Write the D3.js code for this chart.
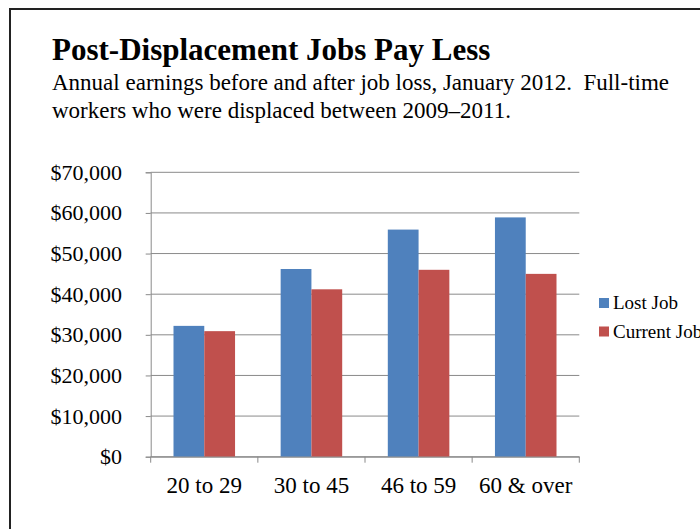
<!DOCTYPE html>
<html><head><meta charset="utf-8">
<script src="https://cdn.jsdelivr.net/npm/d3@7"></script>
<style>body{margin:0;background:#fff}svg{display:block}</style>
</head><body>
<script>
const categories = ["20 to 29", "30 to 45", "46 to 59", "60 & over"];
const series = ["Lost Job", "Current Job"];
const lostJob = [32200, 46200, 55900, 58900];
const currentJob = [30900, 41200, 46000, 45000];
const yTicks = [0, 10000, 20000, 30000, 40000, 50000, 60000, 70000];
const colors = ["#4F81BD", "#C0504D"];

const W = 700, H = 529;
const FONT = "'Liberation Serif','Times New Roman',serif";
const svg = d3.select("body").append("svg").attr("width", W).attr("height", H)
  .style("font-family", FONT);

// frame
svg.append("rect").attr("x", 10).attr("y", 9).attr("width", 720).attr("height", 560)
  .attr("fill", "none").attr("stroke", "#222").attr("stroke-width", 2);

svg.append("text").attr("x", 52).attr("y", 60).attr("font-size", 31).attr("font-weight", "bold")
  .text("Post-Displacement Jobs Pay Less");
svg.append("text").attr("x", 52).attr("y", 90).attr("font-size", 23)
  .text("Annual earnings before and after job loss, January 2012.\u00a0 Full-time");
svg.append("text").attr("x", 52).attr("y", 118).attr("font-size", 23)
  .text("workers who were displaced between 2009\u20132011.");

const pLeft = 150.7, pRight = 579.3, pTop = 172.3, pBottom = 456.7;
const y = d3.scaleLinear().domain([0, 70000]).range([pBottom, pTop]);
const x = d3.scaleBand().domain(categories).range([pLeft, pRight]).paddingInner(0).paddingOuter(0);
const xs = d3.scaleBand().domain(series).range([22.8, x.bandwidth() - 22.8]);

// gridlines
svg.append("g").selectAll("line").data(yTicks).join("line")
  .attr("x1", pLeft).attr("x2", pRight)
  .attr("y1", d => y(d)).attr("y2", d => y(d))
  .attr("stroke", "#8a8a8a").attr("stroke-width", 1);

// y axis
const yAxis = svg.append("g").attr("transform", `translate(${pLeft},0)`)
  .call(d3.axisLeft(y).tickValues(yTicks).tickSize(5).tickPadding(23.7)
    .tickFormat(d => "$" + d3.format(",")(d)));
yAxis.attr("font-family", FONT).attr("font-size", 22);
yAxis.select(".domain").attr("stroke", "#8a8a8a");
yAxis.selectAll(".tick line").attr("stroke", "#8a8a8a");
yAxis.selectAll("text").attr("fill", "#000");

// bars
const data = categories.map((c, i) => ({c, vals: [lostJob[i], currentJob[i]]}));
const g = svg.append("g").selectAll("g").data(data).join("g")
  .attr("transform", d => `translate(${x(d.c)},0)`);
g.selectAll("rect").data(d => d.vals.map((v, j) => ({s: series[j], v, j}))).join("rect")
  .attr("x", d => xs(d.s)).attr("width", xs.bandwidth())
  .attr("y", d => y(d.v)).attr("height", d => y(0) - y(d.v))
  .attr("fill", d => colors[d.j]);

// x axis
const xAxis = svg.append("g").attr("transform", `translate(0,${pBottom})`)
  .call(d3.axisBottom(x).tickSize(0).tickPadding(19.7));
xAxis.attr("font-family", FONT).attr("font-size", 23);
xAxis.select(".domain").attr("stroke", "#8a8a8a");
xAxis.selectAll("text").attr("fill", "#000");
const bounds = categories.map(c => x(c)).concat([pRight]);
svg.append("g").selectAll("line").data(bounds).join("line")
  .attr("x1", d => d).attr("x2", d => d).attr("y1", pBottom).attr("y2", pBottom + 6)
  .attr("stroke", "#8a8a8a");

// legend
const lg = svg.append("g").selectAll("g").data(series).join("g")
  .attr("transform", (d, i) => `translate(599,${298 + i * 28.5})`);
lg.append("rect").attr("width", 10).attr("height", 10).attr("fill", (d, i) => colors[i]);
lg.append("text").attr("x", 14).attr("y", 11).attr("font-size", 19).text(d => d);
</script>
</body></html>
